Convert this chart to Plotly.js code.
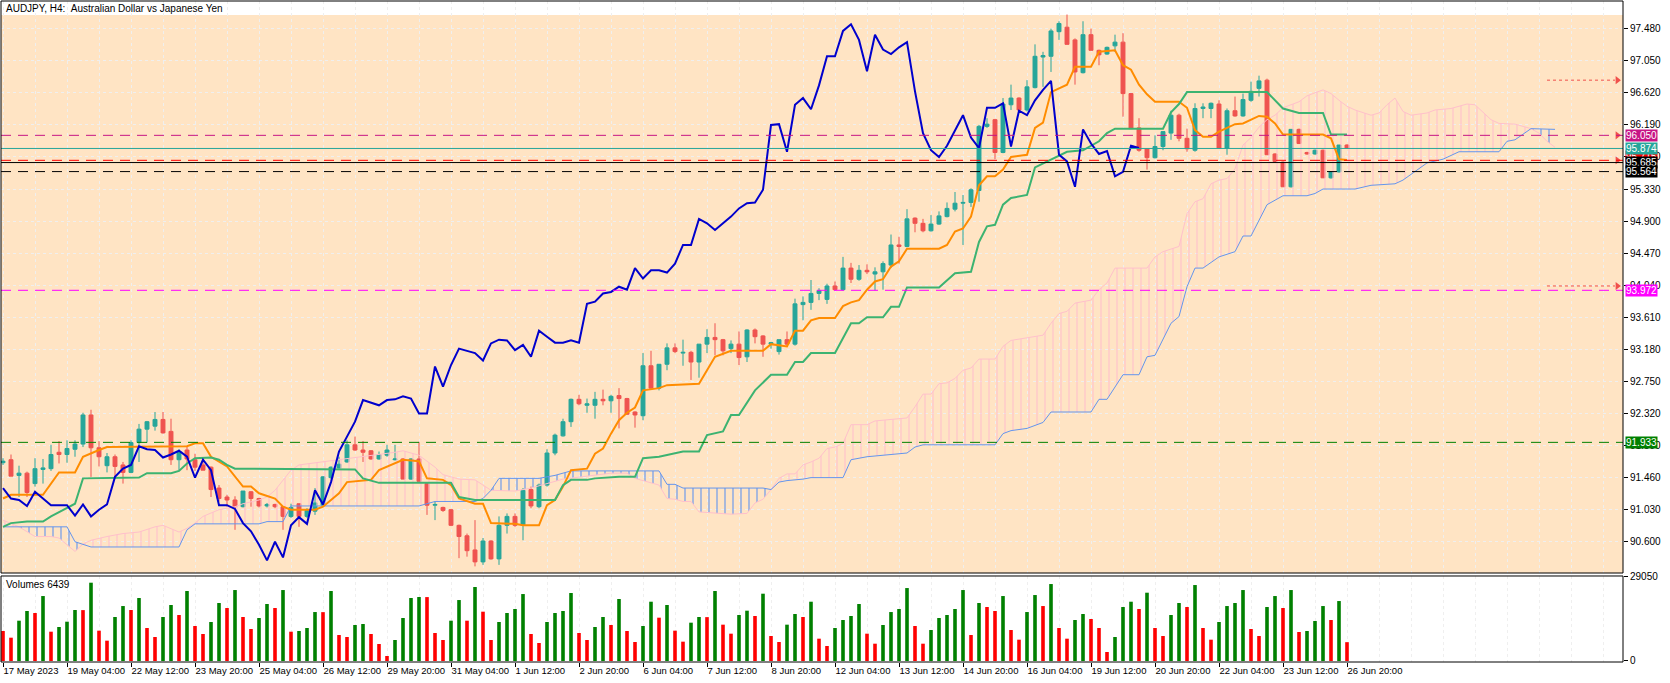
<!DOCTYPE html>
<html>
<head>
<meta charset="utf-8">
<script src="https://cdn.plot.ly/plotly-3.0.1.min.js"></script>
<style>
  html, body { margin: 0; padding: 0; background: #fff; }
  #myDiv { width: 1670px; height: 683px; }
</style>
</head>
<body>
<div id="myDiv"></div>
<script>
// AUDJPY H4, 17 May - 26 Jun 2023, bar index on x
const timeLabels = ["17 May 2023", "19 May 04:00", "22 May 12:00", "23 May 20:00", "25 May 04:00",
  "26 May 12:00", "29 May 20:00", "31 May 04:00", "1 Jun 12:00", "2 Jun 20:00", "6 Jun 04:00",
  "7 Jun 12:00", "8 Jun 20:00", "12 Jun 04:00", "13 Jun 12:00", "14 Jun 20:00", "16 Jun 04:00",
  "19 Jun 12:00", "20 Jun 20:00", "22 Jun 04:00", "23 Jun 12:00", "26 Jun 20:00"]
const priceTicks = [97.48, 97.05, 96.62, 96.19, 95.76, 95.33, 94.90, 94.47, 94.04, 93.61,
  93.18, 92.75, 92.32, 91.89, 91.46, 91.03, 90.60]

const openP = [91.66, 91.70, 91.49, 91.52, 91.38, 91.57, 91.58, 91.80, 91.77, 91.84,
  91.91, 92.30, 91.86, 91.62, 91.74, 91.63, 91.53, 91.93, 92.11, 92.15,
  92.24, 92.08, 91.70, 91.83, 91.70, 91.63, 91.60, 91.32, 91.20, 91.16,
  91.07, 91.27, 91.18, 91.08, 91.10, 91.07, 90.94, 91.11, 90.94, 91.01,
  91.09, 91.46, 91.59, 91.67, 91.90, 91.83, 91.82, 91.71, 91.76, 91.70,
  91.71, 91.44, 91.71, 91.38, 91.09, 91.06, 91.03, 90.82, 90.68, 90.49,
  90.33, 90.61, 90.37, 90.82, 90.94, 90.82, 91.30, 91.07, 91.36, 91.79,
  92.02, 92.21, 92.51, 92.43, 92.43, 92.51, 92.49, 92.56, 92.52, 92.34,
  92.29, 92.96, 92.66, 92.98, 93.20, 93.13, 93.14, 93.01, 93.25, 93.34,
  93.31, 93.19, 93.25, 93.08, 93.44, 93.36, 93.25, 93.15, 93.31, 93.25,
  93.78, 93.81, 93.93, 93.85, 94.03, 93.98, 94.27, 94.12, 94.24, 94.19,
  94.22, 94.31, 94.58, 94.56, 94.94, 94.87, 94.77, 94.86, 94.96, 95.06,
  95.14, 95.15, 95.31, 96.17, 96.26, 95.82, 96.46, 96.55, 96.39, 96.69,
  97.10, 97.11, 97.44, 97.50, 97.33, 96.89, 97.40, 97.19, 97.14, 97.25,
  97.30, 96.61, 96.15, 95.87, 95.75, 95.90, 96.08, 96.32, 96.01, 95.85,
  96.41, 96.41, 96.47, 95.88, 96.38, 96.31, 96.52, 96.68, 96.79, 95.80,
  95.69, 95.36, 96.13, 95.82, 95.80, 95.85, 95.48, 95.56, 95.92]
const highP = [91.72, 91.77, 91.62, 91.54, 91.72, 91.71, 91.90, 91.95, 91.96, 91.96,
  92.33, 92.37, 91.95, 91.79, 91.77, 91.67, 91.96, 92.18, 92.22, 92.34,
  92.34, 92.25, 91.84, 91.88, 91.78, 91.70, 91.61, 91.36, 91.23, 91.21,
  91.28, 91.28, 91.19, 91.12, 91.11, 91.08, 91.11, 91.11, 91.05, 91.32,
  91.48, 91.61, 91.74, 91.96, 92.01, 91.95, 91.83, 91.81, 91.90, 91.90,
  91.72, 91.72, 91.94, 91.39, 91.14, 91.07, 91.04, 90.83, 90.71, 90.89,
  90.65, 90.62, 90.94, 90.98, 90.98, 91.32, 91.34, 91.38, 91.84, 92.05,
  92.25, 92.52, 92.57, 92.52, 92.61, 92.64, 92.57, 92.66, 92.53, 92.35,
  93.13, 93.16, 92.98, 93.26, 93.26, 93.31, 93.16, 93.25, 93.45, 93.53,
  93.32, 93.30, 93.42, 93.45, 93.46, 93.37, 93.28, 93.31, 93.42, 93.86,
  93.89, 94.11, 94.00, 94.06, 94.09, 94.42, 94.34, 94.31, 94.32, 94.28,
  94.36, 94.72, 94.69, 95.06, 94.95, 94.93, 94.98, 95.03, 95.15, 95.29,
  95.25, 95.34, 96.19, 96.28, 96.27, 96.55, 96.73, 96.56, 96.79, 97.27,
  97.17, 97.48, 97.58, 97.67, 97.35, 97.58, 97.48, 97.20, 97.24, 97.40,
  97.42, 96.62, 96.28, 95.88, 96.05, 96.10, 96.38, 96.34, 96.14, 96.48,
  96.48, 96.49, 96.52, 96.41, 96.57, 96.61, 96.77, 96.85, 96.81, 95.81,
  95.70, 96.13, 96.14, 95.83, 95.86, 95.86, 95.57, 95.92, 95.93]
const lowP = [91.63, 91.48, 91.20, 91.20, 91.34, 91.38, 91.55, 91.65, 91.66, 91.74,
  91.87, 91.47, 91.61, 91.53, 91.47, 91.38, 91.52, 91.67, 91.93, 92.09,
  92.05, 91.63, 91.56, 91.56, 91.55, 91.56, 91.20, 91.14, 91.07, 90.76,
  91.06, 91.07, 91.06, 91.06, 91.05, 90.76, 90.92, 90.80, 90.92, 90.96,
  91.08, 91.44, 91.58, 91.66, 91.82, 91.67, 91.70, 91.70, 91.74, 91.69,
  91.44, 91.43, 91.41, 90.96, 90.89, 91.00, 90.81, 90.38, 90.40, 90.27,
  90.29, 90.36, 90.29, 90.71, 90.80, 90.62, 91.05, 91.05, 91.34, 91.76,
  92.01, 92.14, 92.43, 92.33, 92.25, 92.43, 92.33, 92.12, 92.30, 92.13,
  92.23, 92.64, 92.63, 92.90, 93.13, 92.96, 92.77, 92.80, 93.13, 93.10,
  93.10, 93.13, 92.97, 93.01, 93.26, 93.08, 93.19, 93.11, 93.22, 93.23,
  93.57, 93.71, 93.84, 93.79, 93.97, 93.97, 94.07, 94.10, 94.19, 93.97,
  93.98, 94.27, 94.33, 94.55, 94.75, 94.75, 94.76, 94.85, 94.95, 95.03,
  94.58, 95.09, 95.16, 96.15, 95.73, 95.81, 96.39, 96.38, 96.37, 96.68,
  96.70, 96.90, 97.33, 97.27, 96.73, 96.88, 97.19, 96.99, 97.13, 97.17,
  96.30, 96.14, 95.83, 95.59, 95.74, 95.85, 95.99, 95.97, 95.83, 95.83,
  96.28, 96.28, 95.88, 95.79, 96.30, 96.30, 96.50, 96.57, 95.79, 95.69,
  95.36, 95.35, 95.94, 95.79, 95.79, 95.48, 95.47, 95.55, 95.87]
const closeP = [91.68, 91.48, 91.52, 91.26, 91.58, 91.59, 91.77, 91.77, 91.85, 91.91,
  92.30, 91.86, 91.74, 91.74, 91.61, 91.53, 91.93, 92.11, 92.21, 92.24,
  92.06, 91.70, 91.81, 91.71, 91.60, 91.56, 91.30, 91.18, 91.16, 91.07,
  91.28, 91.18, 91.08, 91.10, 91.07, 90.94, 91.06, 90.94, 91.02, 91.12,
  91.47, 91.60, 91.64, 91.90, 91.83, 91.80, 91.71, 91.77, 91.83, 91.71,
  91.44, 91.71, 91.41, 91.09, 91.10, 91.02, 90.82, 90.67, 90.48, 90.33,
  90.61, 90.37, 90.82, 90.94, 90.82, 91.29, 91.08, 91.36, 91.79, 92.03,
  92.21, 92.51, 92.45, 92.45, 92.51, 92.49, 92.55, 92.52, 92.31, 92.30,
  92.96, 92.66, 92.98, 93.20, 93.15, 93.14, 93.01, 93.25, 93.34, 93.31,
  93.16, 93.25, 93.07, 93.44, 93.35, 93.25, 93.27, 93.31, 93.25, 93.79,
  93.81, 93.93, 93.97, 94.03, 93.98, 94.27, 94.12, 94.24, 94.22, 94.22,
  94.33, 94.58, 94.56, 94.93, 94.87, 94.77, 94.86, 94.97, 95.07, 95.14,
  95.15, 95.32, 96.17, 96.20, 95.82, 96.47, 96.55, 96.39, 96.70, 97.11,
  97.12, 97.45, 97.55, 97.27, 96.90, 97.40, 97.19, 97.13, 97.23, 97.30,
  96.61, 96.14, 95.85, 95.75, 95.90, 96.10, 96.32, 96.01, 95.87, 96.41,
  96.43, 96.48, 95.88, 96.38, 96.31, 96.53, 96.64, 96.78, 95.79, 95.70,
  95.36, 96.13, 95.94, 95.80, 95.85, 95.48, 95.56, 95.92, 95.874]

const volumes = [10250, 7970, 13780, 17090, 16400, 22210, 10020, 11620, 13440, 17430,
  17400, 26770, 10370, 6950, 15040, 18790, 17430, 21530, 11280, 8200,
  15040, 19140, 15720, 23920, 11960, 9230, 13330, 19820, 18110, 24260,
  15040, 10930, 14690, 19480, 18110, 24260, 10020, 10250, 11280, 16740,
  16700, 23920, 8880, 8200, 12300, 12640, 9230, 5810, 1710, 7180,
  14690, 21530, 21870, 21850, 9570, 7180, 13780, 20840, 13780, 25290,
  16860, 7180, 13330, 16400, 17770, 22890, 9230, 6150, 13330, 16400,
  17090, 23240, 9570, 7180, 11620, 15040, 12300, 21190, 10250, 6490,
  11960, 20270, 14810, 19140, 10370, 6610, 13100, 15040, 15000, 23920,
  12420, 9340, 15720, 17200, 15380, 23010, 8540, 6490, 12420, 16060,
  15040, 20270, 7630, 5130, 11280, 14010, 15380, 19480, 9340, 5920,
  12300, 16740, 17770, 24940, 11960, 5920, 10590, 14690, 15720, 17770,
  24260, 8880, 19820, 18450, 17090, 22210, 10590, 7290, 16740, 22550,
  18790, 26310, 11280, 7630, 14010, 16060, 14350, 11280, 3080, 8200,
  18450, 20270, 17770, 23350, 11280, 8540, 15720, 19820, 18450, 25970,
  11280, 7290, 13330, 18790, 19820, 24260, 10930, 8540, 18450, 22210,
  18110, 24260, 9910, 10250, 13670, 18790, 14010, 20500, 6439]

// Ichimoku lines, read as vertices (bar index, price)
const tenkanX = [0, 1, 5, 7, 9, 10, 12, 13, 23, 24, 25, 26, 28, 30, 31, 32, 34, 35, 36, 39,
  40, 41, 42, 43, 46, 47, 49, 50, 52, 53, 55, 56, 57, 59, 60, 61, 64, 65, 67, 68,
  69, 70, 71, 73, 74, 75, 76, 77, 78, 79, 80, 82, 83, 87, 89, 91, 95, 96, 98, 99,
  100, 101, 102, 104, 105, 106, 107, 108, 109, 110, 111, 112, 113, 117, 118, 119, 120, 121, 122, 123,
  124, 125, 126, 128, 129, 130, 131, 133, 134, 136, 137, 139, 140, 141, 142, 143, 144, 147, 148, 149,
  150, 151, 152, 153, 154, 155, 157, 158, 159, 160, 165, 166, 167, 168]
const tenkanY = [91.18, 91.23, 91.23, 91.53, 91.53, 91.74, 91.83, 91.87, 91.88, 91.92, 91.92, 91.74, 91.61, 91.34, 91.34, 91.25, 91.18, 91.07, 91.03, 91.03,
  91.07, 91.16, 91.25, 91.40, 91.43, 91.56, 91.66, 91.70, 91.68, 91.45, 91.43, 91.36, 91.18, 91.11, 91.11, 90.85, 90.84, 90.82, 90.82, 91.09,
  91.16, 91.34, 91.56, 91.58, 91.78, 91.85, 92.05, 92.23, 92.33, 92.40, 92.63, 92.66, 92.70, 92.72, 93.08, 93.16, 93.16, 93.25, 93.22, 93.43,
  93.43, 93.57, 93.60, 93.60, 93.76, 93.81, 93.84, 93.98, 94.09, 94.12, 94.29, 94.36, 94.53, 94.53, 94.58, 94.76, 94.80, 94.96, 95.38, 95.50,
  95.50, 95.59, 95.76, 95.79, 96.15, 96.22, 96.63, 96.73, 96.97, 96.97, 97.17, 97.19, 96.99, 96.93, 96.73, 96.60, 96.50, 96.50, 96.42, 96.12,
  96.03, 96.03, 96.10, 96.15, 96.20, 96.21, 96.31, 96.30, 96.21, 96.06, 96.06, 96.01, 95.73, 95.72]

const kijunX = [0, 1, 3, 5, 6, 7, 8, 9, 10, 17, 18, 21, 22, 23, 24, 26, 27, 28, 29, 44,
  45, 47, 56, 57, 58, 59, 69, 70, 71, 73, 74, 77, 79, 80, 82, 83, 84, 85, 87, 88,
  90, 91, 92, 94, 96, 98, 99, 100, 101, 104, 106, 107, 108, 110, 111, 112, 113, 117, 119, 121,
  122, 123, 124, 125, 126, 128, 129, 131, 133, 135, 137, 138, 139, 145, 146, 147, 148, 158, 160, 162,
  165, 166, 168]
const kijunY = [90.80, 90.85, 90.87, 90.87, 90.94, 91.00, 91.05, 91.11, 91.45, 91.46, 91.52, 91.52, 91.55, 91.65, 91.72, 91.73, 91.70, 91.63, 91.58, 91.57,
  91.45, 91.39, 91.39, 91.20, 91.18, 91.16, 91.16, 91.36, 91.43, 91.43, 91.45, 91.47, 91.47, 91.72, 91.74, 91.76, 91.79, 91.81, 91.81, 92.03,
  92.08, 92.30, 92.30, 92.63, 92.84, 92.84, 93.01, 93.01, 93.13, 93.13, 93.53, 93.53, 93.61, 93.61, 93.75, 93.75, 94.01, 94.01, 94.20, 94.22,
  94.62, 94.83, 94.85, 95.12, 95.21, 95.25, 95.62, 95.72, 95.83, 95.85, 95.97, 96.08, 96.14, 96.14, 96.36, 96.47, 96.63, 96.63, 96.41, 96.35,
  96.35, 96.06, 96.06]

const spanAX = [0, 2, 4, 6, 7, 9, 10, 11, 13, 15, 17, 19, 20, 21, 22, 23, 24, 25, 26, 27,
  29, 30, 32, 33, 34, 36, 37, 40, 42, 49, 50, 52, 54, 55, 57, 59, 60, 61, 64, 66,
  68, 70, 73, 76, 78, 79, 81, 82, 83, 84, 85, 86, 87, 89, 91, 93, 94, 95, 96, 97,
  98, 99, 100, 101, 102, 103, 104, 105, 106, 108, 109, 111, 113, 114, 115, 116, 117, 118, 119, 120,
  121, 122, 124, 125, 126, 130, 131, 132, 133, 134, 136, 137, 138, 139, 143, 144, 145, 147, 148, 149,
  150, 151, 152, 153, 154, 155, 156, 157, 158, 159, 160, 162, 163, 165, 166, 167, 168, 169, 171, 172,
  173, 174, 175, 176, 178, 179, 181, 183, 184, 186, 187, 189, 191, 192, 193, 194]
const spanAY = [90.89, 90.80, 90.67, 90.67, 90.65, 90.47, 90.57, 90.62, 90.67, 90.71, 90.73, 90.80, 90.82, 90.78, 90.73, 90.78, 90.85, 90.94, 90.98, 91.03,
  91.07, 91.11, 91.16, 91.20, 91.29, 91.56, 91.63, 91.67, 91.70, 91.80, 91.82, 91.76, 91.60, 91.50, 91.44, 91.43, 91.36, 91.29, 91.28, 91.32,
  91.38, 91.44, 91.48, 91.52, 91.52, 91.45, 91.39, 91.36, 91.18, 91.17, 91.14, 91.14, 91.00, 90.98, 90.97, 90.98, 91.12, 91.17, 91.30, 91.45,
  91.51, 91.51, 91.63, 91.67, 91.72, 91.85, 91.87, 91.92, 92.17, 92.17, 92.22, 92.24, 92.26, 92.41, 92.58, 92.58, 92.72, 92.73, 92.79, 92.90,
  92.93, 93.05, 93.05, 93.22, 93.30, 93.37, 93.53, 93.66, 93.69, 93.80, 93.84, 93.98, 94.07, 94.27, 94.27, 94.42, 94.49, 94.56, 95.00, 95.16,
  95.20, 95.40, 95.45, 95.47, 95.60, 95.92, 96.02, 96.16, 96.26, 96.32, 96.42, 96.50, 96.58, 96.66, 96.61, 96.52, 96.44, 96.39, 96.32, 96.35,
  96.46, 96.55, 96.37, 96.32, 96.35, 96.39, 96.41, 96.47, 96.46, 96.26, 96.21, 96.20, 96.14, 96.08, 95.97, 95.89]

const spanBX = [0, 2, 8, 9, 10, 11, 22, 23, 24, 32, 33, 35, 36, 52, 54, 59, 60, 61, 62, 67,
  69, 71, 82, 83, 84, 85, 95, 96, 97, 98, 100, 101, 105, 106, 108, 110, 113, 114, 115, 124,
  125, 126, 128, 130, 131, 136, 137, 138, 140, 142, 143, 144, 146, 147, 148, 149, 150, 152, 153, 154,
  155, 156, 158, 160, 163, 164, 165, 169, 171, 174, 175, 177, 178, 180, 182, 187, 188, 189, 191, 194]
const spanBY = [90.80, 90.80, 90.80, 90.60, 90.57, 90.53, 90.53, 90.76, 90.84, 90.84, 90.87, 90.87, 91.08, 91.08, 91.14, 91.14, 91.18, 91.29, 91.45, 91.45,
  91.49, 91.55, 91.55, 91.37, 91.37, 91.32, 91.32, 91.30, 91.40, 91.42, 91.44, 91.46, 91.46, 91.70, 91.74, 91.76, 91.79, 91.87, 91.90, 91.90,
  92.05, 92.09, 92.12, 92.20, 92.34, 92.34, 92.51, 92.51, 92.84, 92.84, 93.08, 93.10, 93.53, 93.62, 94.02, 94.27, 94.27, 94.42, 94.45, 94.49,
  94.70, 94.70, 95.12, 95.24, 95.24, 95.27, 95.33, 95.33, 95.38, 95.40, 95.45, 95.61, 95.68, 95.73, 95.83, 95.83, 95.97, 95.99, 96.14, 96.13]

// where span A and span B cross; colour flips at each one
const cloudCross = [0, 2, 10, 61, 96, 191, 194]

// chikou span, one value per bar from index 0
const chikou = [91.32, 91.18, 91.16, 91.08, 91.27, 91.18, 91.09, 91.09, 91.09, 90.95,
  91.10, 90.94, 91.03, 91.10, 91.47, 91.58, 91.63, 91.88, 91.84, 91.83,
  91.73, 91.77, 91.82, 91.74, 91.46, 91.70, 91.56, 91.09, 91.09, 91.04,
  90.85, 90.74, 90.56, 90.35, 90.60, 90.39, 90.82, 90.93, 90.84, 91.29,
  91.10, 91.40, 91.81, 92.01, 92.21, 92.50, 92.47, 92.43, 92.50, 92.51,
  92.55, 92.52, 92.32, 92.32, 92.95, 92.68, 92.97, 93.19, 93.16, 93.13,
  93.03, 93.26, 93.31, 93.30, 93.17, 93.24, 93.08, 93.43, 93.35, 93.27,
  93.27, 93.30, 93.27, 93.79, 93.82, 93.93, 93.95, 94.02, 93.98, 94.27,
  94.13, 94.24, 94.24, 94.21, 94.33, 94.58, 94.58, 94.93, 94.87, 94.78,
  94.87, 94.96, 95.07, 95.14, 95.15, 95.32, 96.19, 96.20, 95.83, 96.46,
  96.55, 96.40, 96.72, 97.11, 97.11, 97.45, 97.54, 97.33, 96.91, 97.40,
  97.20, 97.14, 97.23, 97.30, 96.64, 96.08, 95.85, 95.76, 95.91, 96.12,
  96.32, 96.02, 95.88, 96.42, 96.42, 96.48, 95.90, 96.38, 96.32, 96.52,
  96.66, 96.78, 95.79, 95.70, 95.36, 96.13, 95.94, 95.80, 95.84, 95.50,
  95.56, 95.91, 95.88]

// horizontal levels at the right edge
const levelPrices = [96.050, 95.874, 95.715, 95.685, 95.564, 93.972, 91.933]
const levelText = ["96.050", "95.874", "95.715", "95.685", "95.564", "93.972", "91.933"]
const alertPrices = [96.79, 94.03]

const levelColor = ["#C71585", "#26A69A", "#FF0000", "#000000", "#000000", "#FF00FF", "#008000"]
const levelDash = ["10px,7px", "solid", "10px,7px", "solid", "10px,7px", "10px,7px", "10px,7px"]

const bars = openP.map((e, i) => i)
const fnt = "Liberation Sans, Arial, sans-serif"
const gridCol = "#efefef"

function between(xs, ys, a, b) {
  let out = { x: [], y: [] }
  for (let k = 0; k < xs.length; k++) {
    if (xs[k] >= a && xs[k] <= b) {
      out.x.push(xs[k])
      out.y.push(ys[k])
    }
  }
  return out
}

let data = []

// cloud hatch, region by region
for (let r = 0; r < cloudCross.length - 1; r++) {
  const a = cloudCross[r], b = cloudCross[r + 1]
  const col = r % 2 == 0 ? "#FFC0CB" : "#6495ED"
  const sb = between(spanBX, spanBY, a, b)
  const sa = between(spanAX, spanAY, a, b)
  data.push({ x: sb.x, y: sb.y, mode: "lines", type: "scatter", line: { width: 0 }, hoverinfo: "skip" })
  data.push({
    x: sa.x, y: sa.y, mode: "lines", type: "scatter", line: { width: 0 }, hoverinfo: "skip",
    fill: "tonexty", fillcolor: "rgba(0,0,0,0)",
    fillpattern: { shape: "|", size: 8, solidity: 0.14, fgcolor: col, bgcolor: "rgba(0,0,0,0)" },
  })
}

data.push({ x: spanAX, y: spanAY, mode: "lines", type: "scatter", line: { color: "#FFC0CB", width: 1 } })
data.push({ x: spanBX, y: spanBY, mode: "lines", type: "scatter", line: { color: "#6495ED", width: 1 } })

data.push({
  type: "candlestick",
  x: bars, open: openP, high: highP, low: lowP, close: closeP,
  increasing: { line: { color: "#26A69A", width: 1 }, fillcolor: "#26A69A" },
  decreasing: { line: { color: "#EF5350", width: 1 }, fillcolor: "#EF5350" },
  whiskerwidth: 0,
  hoverinfo: "skip",
})

data.push({ x: tenkanX, y: tenkanY, mode: "lines", type: "scatter", line: { color: "#FF8C00", width: 2 } })
data.push({ x: kijunX, y: kijunY, mode: "lines", type: "scatter", line: { color: "#3CB371", width: 2 } })
data.push({ x: chikou.map((e, i) => i), y: chikou, mode: "lines", type: "scatter", line: { color: "#0000CD", width: 2 } })

// volumes: green when above the previous bar
data.push({
  type: "bar", x: bars, y: volumes, xaxis: "x", yaxis: "y2", width: 0.45,
  marker: { color: volumes.map((v, i) => (i > 0 && v > volumes[i - 1] ? "#008000" : "#FF0000")) },
})

// arrow heads at the right end of some lines
const arrowPrices = [alertPrices[0], levelPrices[0], levelPrices[2], alertPrices[1]]
data.push({
  x: arrowPrices.map(() => 201.8), y: arrowPrices, mode: "markers", type: "scatter",
  marker: { symbol: "triangle-right", size: 7, color: "#F0504B" },
})

let shapes = [
  { type: "rect", xref: "paper", x0: 0, x1: 1, yref: "y", y0: 90.1809, y1: 97.664,
    fillcolor: "#FFE4C4", line: { width: 0 }, layer: "below" },
]
levelPrices.forEach((p, k) => {
  shapes.push({ type: "line", xref: "paper", x0: 0, x1: 1, yref: "y", y0: p, y1: p,
    line: { color: levelColor[k], width: 1, dash: levelDash[k] } })
})
alertPrices.forEach((p) => {
  shapes.push({ type: "line", xref: "x", x0: 193, x1: 201.5, yref: "y", y0: p, y1: p,
    line: { color: "#F0504B", width: 1, dash: "3px,3px" } })
})
shapes.push({ type: "rect", xref: "paper", x0: 0, x1: 1, yref: "y domain", y0: 0, y1: 1,
  line: { color: "#000", width: 1 } })
shapes.push({ type: "rect", xref: "paper", x0: 0, x1: 1, yref: "y2 domain", y0: 0, y1: 1,
  line: { color: "#000", width: 1 } })

let annotations = [
  { xref: "paper", yref: "paper", x: 0.0019, y: 0.9894, xanchor: "left", yanchor: "middle",
    text: "AUDJPY, H4: \u00a0Australian Dollar vs Japanese Yen", showarrow: false,
    font: { family: fnt, size: 10, color: "#000" } },
  { xref: "paper", yref: "paper", x: 0.0019, y: 0.118, xanchor: "left", yanchor: "middle",
    text: "Volumes " + volumes[volumes.length - 1], showarrow: false,
    font: { family: fnt, size: 10, color: "#000" } },
]
// the red label sits behind the others, draw it first
const labelOrder = [2, 0, 1, 3, 4, 5, 6]
labelOrder.forEach((k) => {
  annotations.push({
    xref: "paper", yref: "y", x: 1.0012, y: k == 2 ? 95.76 : levelPrices[k],
    xanchor: "left", yanchor: "middle", text: levelText[k], showarrow: false,
    bgcolor: levelColor[k], borderpad: 0, font: { family: fnt, size: 10, color: "#fff" },
  })
})

const layout = {
  width: 1670,
  height: 683,
  margin: { l: 1, r: 47, t: 1, b: 21 },
  paper_bgcolor: "#fff",
  plot_bgcolor: "#fff",
  showlegend: false,
  font: { family: fnt, size: 10, color: "#000" },
  xaxis: {
    type: "linear",
    range: [-0.25, 202.5],
    anchor: "y2",
    rangeslider: { visible: false },
    tickmode: "array",
    tickvals: timeLabels.map((e, k) => k * 8),
    ticktext: timeLabels,
    tickangle: 0,
    ticks: "outside",
    ticklen: 4,
    tickcolor: "#000",
    ticklabelposition: "outside right",
    ticklabelstandoff: 0,
    tickfont: { family: fnt, size: 9.5, color: "#000" },
    showgrid: false,
    zeroline: false,
    showline: false,
    minor: { tickmode: "linear", tick0: 0, dtick: 4, showgrid: true, gridcolor: gridCol, griddash: "3px,3px", gridwidth: 1, ticks: "" },
  },
  yaxis: {
    domain: [0.13464, 1],
    range: [90.1809, 97.8515],
    side: "right",
    anchor: "x",
    tickmode: "array",
    tickvals: priceTicks,
    tickformat: ".3f",
    ticks: "outside",
    ticklen: 4,
    tickcolor: "#000",
    showgrid: true,
    gridcolor: gridCol,
    griddash: "3px,3px",
    zeroline: false,
    showline: false,
    tickfont: { family: fnt, size: 10, color: "#000" },
  },
  yaxis2: {
    domain: [0, 0.13011],
    range: [-342, 29060],
    side: "right",
    anchor: "x",
    tickmode: "array",
    tickvals: [0, 29050],
    ticktext: ["0", "29050"],
    ticks: "outside",
    ticklen: 4,
    tickcolor: "#000",
    showgrid: false,
    zeroline: false,
    showline: false,
    tickfont: { family: fnt, size: 10, color: "#000" },
  },
  shapes: shapes,
  annotations: annotations,
}

Plotly.newPlot("myDiv", data, layout, { staticPlot: true, displayModeBar: false })
</script>
</body>
</html>
